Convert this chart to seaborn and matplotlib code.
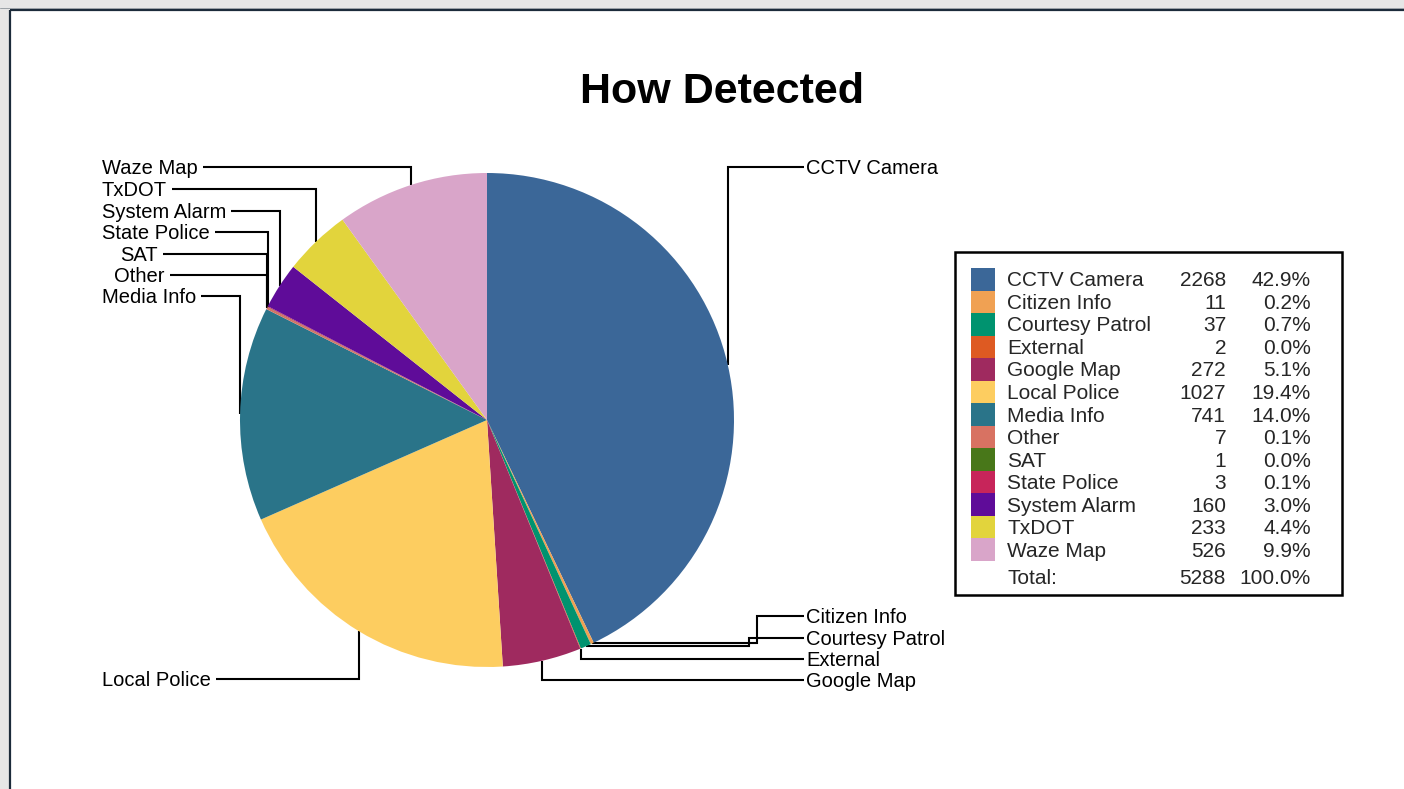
import numpy as np
import matplotlib
matplotlib.use("Agg")
import matplotlib.pyplot as plt
import seaborn as sns
from matplotlib.patches import Rectangle

# ---------------- data ----------------
categories = ["CCTV Camera", "Citizen Info", "Courtesy Patrol", "External", "Google Map",
              "Local Police", "Media Info", "Other", "SAT", "State Police",
              "System Alarm", "TxDOT", "Waze Map"]
counts = [2268, 11, 37, 2, 272, 1027, 741, 7, 1, 3, 160, 233, 526]
colors = ["#3b6798", "#f0a153", "#00936f", "#de5a22", "#9f2a5f", "#fdcd60", "#2a7489",
          "#d87262", "#487719", "#c7255a", "#5f0c99", "#e2d43c", "#d9a5c9"]
title = "How Detected"
total_label = "Total:"

# ---------------- layout (pixels) ----------------
W, H = 1404, 789
CX, CY, R = 487, 420, 247
# label anchor: (side, text x, text y, elbow x)
label_layout = {
    "Waze Map": ("L", 102, 167, None),
    "TxDOT": ("L", 102, 189, None),
    "System Alarm": ("L", 102, 211, None),
    "State Police": ("L", 102, 232, None),
    "SAT": ("L", 120, 254, None),
    "Other": ("L", 114, 275, None),
    "Media Info": ("L", 102, 296, None),
    "Local Police": ("L", 102, 679, None),
    "CCTV Camera": ("R", 806, 167, None),
    "Citizen Info": ("R", 806, 616, 757),
    "Courtesy Patrol": ("R", 806, 638, 749),
    "External": ("R", 806, 659, None),
    "Google Map": ("R", 806, 680, None),
}

sns.set_theme(style="white")
plt.rcParams["font.family"] = ["Liberation Sans", "DejaVu Sans"]

fig = plt.figure(figsize=(W / 100, H / 100), dpi=100, facecolor="#e6e6e6")

# overlay axes in pixel coordinates
ov = fig.add_axes([0, 0, 1, 1])
ov.set_xlim(0, W)
ov.set_ylim(H, 0)
ov.axis("off")
ov.set_zorder(0)
ov.add_patch(Rectangle((10, 10), W - 10, H - 10, facecolor="white", edgecolor="none", zorder=0))
ov.plot([10, W], [10, 10], color="#1c2b3a", lw=1.6, solid_capstyle="butt", zorder=1)
ov.plot([10, 10], [10, H], color="#1c2b3a", lw=1.6, solid_capstyle="butt", zorder=1)
ov.plot([0, W], [8, 8], color="#9aa0a6", lw=0.7, zorder=1)

# pie axes
axp = fig.add_axes([(CX - R) / W, (H - CY - R) / H, 2 * R / W, 2 * R / H])
axp.set_zorder(1)
axp.patch.set_visible(False)
wedges, _ = axp.pie(counts, colors=colors, startangle=90, counterclock=False,
                    wedgeprops=dict(linewidth=0, antialiased=True))
axp.set_xlim(-1, 1)
axp.set_ylim(-1, 1)
axp.axis("off")

# title
ov.text(722, 103, title, ha="center", va="baseline", fontsize=31, fontweight="bold", color="black")

# pie labels
LFS = 14.5
texts = {}
for name in categories:
    side, lx, ly, ex = label_layout[name]
    texts[name] = ov.text(lx, ly + 7, name, ha="left", va="baseline", fontsize=LFS, color="black")

fig.canvas.draw()
renderer = fig.canvas.get_renderer()

for w, name in zip(wedges, categories):
    side, lx, ly, ex = label_layout[name]
    th = np.deg2rad((w.theta1 + w.theta2) / 2)
    dx, dy = axp.transData.transform((np.cos(th), np.sin(th)))
    px, py = dx, H - dy
    if side == "L":
        bb = texts[name].get_window_extent(renderer)
        xend = bb.x1 + 5
        pts = [(px, py), (px, ly), (xend, ly)]
    else:
        if ex is not None:
            pts = [(px, py), (ex, py), (ex, ly), (lx - 2, ly)]
        else:
            pts = [(px, py), (px, ly), (lx - 2, ly)]
    xs, ys = zip(*pts)
    ov.plot(xs, ys, color="black", lw=1.5, solid_joinstyle="miter", solid_capstyle="butt", zorder=2)

# legend table
ov.add_patch(Rectangle((955, 252), 387, 343, facecolor="white", edgecolor="black", lw=1.8, zorder=3))
total = sum(counts)
top0 = 268
rh = (561 - 268) / len(categories)
TFS = 15
for i, (name, c, col) in enumerate(zip(categories, counts, colors)):
    y0 = top0 + i * rh
    ov.add_patch(Rectangle((971, y0), 24, rh, facecolor=col, edgecolor="none", zorder=4))
    yc = y0 + rh / 2 + 7
    ov.text(1007, yc, name, ha="left", va="baseline", fontsize=TFS, zorder=5)
    ov.text(1226, yc, f"{c}", ha="right", va="baseline", fontsize=TFS, zorder=5)
    ov.text(1311, yc, f"{c / total * 100:.1f}%", ha="right", va="baseline", fontsize=TFS, zorder=5)
ov.text(1007, 584, total_label, ha="left", va="baseline", fontsize=TFS, zorder=5)
ov.text(1226, 584, f"{total}", ha="right", va="baseline", fontsize=TFS, zorder=5)
ov.text(1311, 584, "100.0%", ha="right", va="baseline", fontsize=TFS, zorder=5)

fig.savefig("out.png", dpi=100, facecolor=fig.get_facecolor())
